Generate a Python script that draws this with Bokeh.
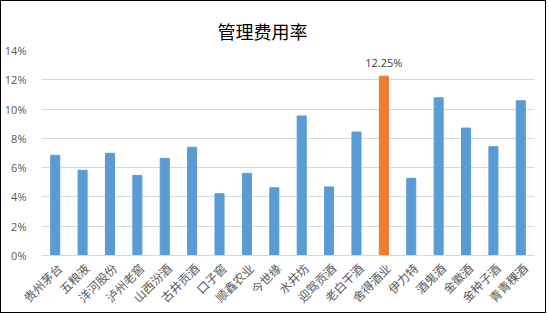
from bokeh.plotting import figure
from bokeh.models import (ColumnDataSource, Range1d, FixedTicker,
                          PrintfTickFormatter, LinearAxis)
from bokeh.core.properties import value
from bokeh.embed import file_html
from bokeh.resources import INLINE
import math

companies = ["贵州茅台", "五粮液", "洋河股份", "泸州老窖", "山西汾酒", "古井贡酒", "口子窖",
             "顺鑫农业", "今世缘", "水井坊", "迎驾贡酒", "老白干酒", "舍得酒业", "伊力特",
             "酒鬼酒", "金徽酒", "金种子酒", "青青稞酒"]
admin_rate = [6.84, 5.82, 6.98, 5.47, 6.63, 7.39, 4.22, 5.61, 4.63, 9.53, 4.68, 8.43, 12.25,
              5.27, 10.77, 8.70, 7.43, 10.57]
highlight = "舍得酒业"
y_ticks = [0, 2, 4, 6, 8, 10, 12, 14]

n = len(companies)
centers = [i + 0.5 for i in range(n)]
colors = ["#ED7D31" if c == highlight else "#5B9BD5" for c in companies]
src = ColumnDataSource(dict(x=centers, name=companies, top=admin_rate, color=colors))

p = figure(width=546, height=313, x_range=Range1d(0, n),
           y_range=Range1d(0, 14), output_backend="svg", toolbar_location=None,
           x_axis_location=None,
           min_border_left=40, min_border_right=13, min_border_top=49, min_border_bottom=58)
p.styles = {"border": "1px solid #000000"}

p.vbar(x="x", top="top", width=0.33, color="color", source=src)

hi = [i for i, c in enumerate(companies) if c == highlight]
lab_src = ColumnDataSource(dict(x=[centers[i] for i in hi], y=[admin_rate[i] for i in hi],
                                t=["%.2f%%" % admin_rate[i] for i in hi]))
p.text(x="x", y="y", text="t", source=lab_src, text_align="center", text_baseline="bottom",
       y_offset=-6, text_font_size="11px", text_color="#404040", text_font=value("Open Sans"))

# category axis drawn on a slightly shifted range so that each rotated
# label ends just right of its bar centre, as in the original
shift = 0.15
p.extra_x_ranges = {"lab": Range1d(-shift, n - shift)}
xax = LinearAxis(x_range_name="lab", ticker=FixedTicker(ticks=centers),
                 major_label_overrides={c: name for c, name in zip(centers, companies)})
xax.axis_line_color = "#D9D9D9"
xax.major_tick_line_color = None
xax.minor_tick_line_color = None
xax.major_label_orientation = math.pi / 4
xax.major_label_text_color = "#595959"
xax.major_label_text_font = "Noto Sans CJK SC"
xax.major_label_text_font_size = "12px"
xax.major_label_standoff = 4
p.add_layout(xax, "below")

p.title.text = "管理费用率"
p.title.align = "left"
p.title.vertical_align = "top"
p.title.text_font = "Noto Sans CJK SC"
p.title.text_font_size = "18px"
p.title.text_font_style = "normal"
p.title.text_color = "#000000"
p.title.offset = 176
p.title.standoff = 10

p.yaxis.ticker = FixedTicker(ticks=y_ticks)
p.yaxis.formatter = PrintfTickFormatter(format="%d%%")
p.yaxis.axis_line_color = None
p.yaxis.major_tick_line_color = None
p.yaxis.minor_tick_line_color = None
p.yaxis.major_label_text_color = "#595959"
p.yaxis.major_label_text_font = "Open Sans"
p.yaxis.major_label_text_font_size = "11px"
p.yaxis.major_label_standoff = 9

p.xgrid.grid_line_color = None
p.ygrid.grid_line_color = "#D9D9D9"
p.outline_line_color = None

open("out.html", "w").write(file_html(p, INLINE))
